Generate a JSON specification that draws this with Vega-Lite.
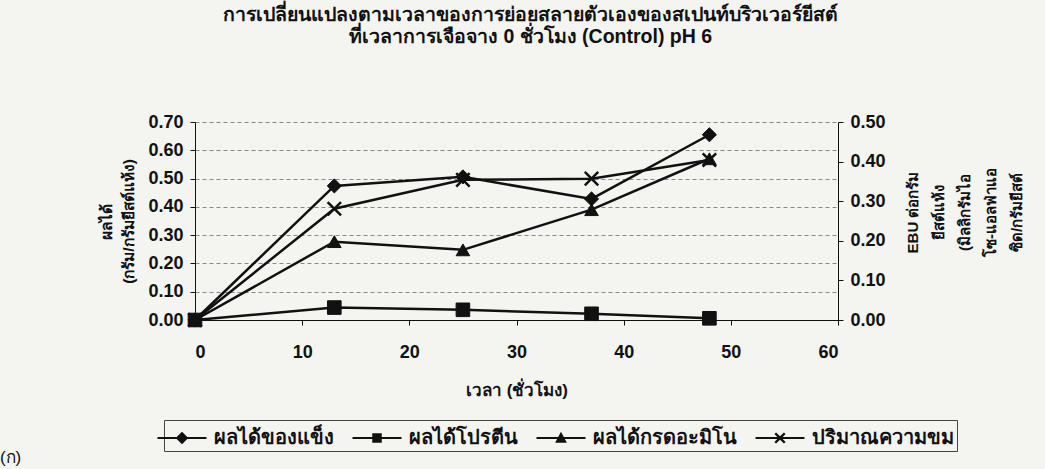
{
  "$schema": "https://vega.github.io/schema/vega-lite/v6.json",
  "width": 643,
  "height": 198,
  "autosize": "none",
  "padding": {"left": 195, "top": 122, "right": 207, "bottom": 149},
  "background": "#f4f4f1",
  "config": {
    "view": {"stroke": null},
    "font": "Liberation Sans",
    "axis": {"labelFont": "Liberation Sans", "labelFontWeight": "bold", "labelFontSize": 18, "labelColor": "#111", "titleFont": "Liberation Sans", "titleFontWeight": "bold", "titleFontSize": 15, "titleColor": "#111", "domainColor": "#111", "tickColor": "#111", "tickSize": 5},
    "legend": {
      "orient": "none", "legendX": -31, "legendY": 298, "direction": "horizontal", "title": null,
      "strokeColor": "#444", "padding": 3, "columnPadding": 15,
      "labelFont": "Liberation Sans", "labelFontWeight": "bold", "labelFontSize": 20, "labelColor": "#111", "labelOffset": 17,
      "symbolSize": 784
    }
  },
  "title": {
    "text": ["การเปลี่ยนแปลงตามเวลาของการย่อยสลายตัวเองของสเปนท์บริวเวอร์ยีสต์", "ที่เวลาการเจือจาง 0 ชั่วโมง (Control) pH 6"],
    "anchor": "middle",
    "frame": "group",
    "dx": 14,
    "offset": 66,
    "font": "Liberation Sans",
    "fontSize": 19.5,
    "fontWeight": "bold",
    "lineHeight": 22,
    "color": "#111"
  },
  "data": {
    "values": [
      {"t": 0, "series": "ผลได้ของแข็ง", "v": 0.0},
      {"t": 13, "series": "ผลได้ของแข็ง", "v": 0.474},
      {"t": 25, "series": "ผลได้ของแข็ง", "v": 0.506},
      {"t": 37, "series": "ผลได้ของแข็ง", "v": 0.428},
      {"t": 48, "series": "ผลได้ของแข็ง", "v": 0.655},
      {"t": 0, "series": "ผลได้โปรตีน", "v": 0.0},
      {"t": 13, "series": "ผลได้โปรตีน", "v": 0.044},
      {"t": 25, "series": "ผลได้โปรตีน", "v": 0.036},
      {"t": 37, "series": "ผลได้โปรตีน", "v": 0.022},
      {"t": 48, "series": "ผลได้โปรตีน", "v": 0.006},
      {"t": 0, "series": "ผลได้กรดอะมิโน", "v": 0.0},
      {"t": 13, "series": "ผลได้กรดอะมิโน", "v": 0.277},
      {"t": 25, "series": "ผลได้กรดอะมิโน", "v": 0.248},
      {"t": 37, "series": "ผลได้กรดอะมิโน", "v": 0.39},
      {"t": 48, "series": "ผลได้กรดอะมิโน", "v": 0.57},
      {"t": 0, "series": "ปริมาณความขม", "v": 0.0},
      {"t": 13, "series": "ปริมาณความขม", "v": 0.281},
      {"t": 25, "series": "ปริมาณความขม", "v": 0.354},
      {"t": 37, "series": "ปริมาณความขม", "v": 0.357},
      {"t": 48, "series": "ปริมาณความขม", "v": 0.404}
    ]
  },
  "encoding": {
    "x": {
      "field": "t", "type": "quantitative",
      "scale": {"domain": [0, 60], "nice": false},
      "axis": {"values": [0, 10, 20, 30, 40, 50, 60], "grid": false, "labelPadding": 18, "title": "เวลา (ชั่วโมง)", "titlePadding": 21, "titleFontSize": 17}
    }
  },
  "layer": [
    {
      "transform": [{"filter": "datum.series !== 'ปริมาณความขม'"}],
      "encoding": {
        "y": {
          "field": "v", "type": "quantitative",
          "scale": {"domain": [0, 0.7], "nice": false},
          "axis": {"orient": "left", "values": [0, 0.1, 0.2, 0.3, 0.4, 0.5, 0.6, 0.7], "format": ".2f", "grid": true, "gridColor": "#888", "gridDash": [4, 3], "gridWidth": 1, "labelPadding": 7, "title": ["ผลได้", "(กรัม/กรัมยีสต์แห้ง)"], "titlePadding": 11, "titleLineHeight": 22, "titleFontSize": 15.5}
        }
      },
      "layer": [
        {"mark": {"type": "line", "color": "#111", "strokeWidth": 2.5}, "encoding": {"detail": {"field": "series"}}},
        {
          "transform": [{"filter": "datum.series === 'ผลได้ของแข็ง'"}],
          "mark": {"type": "point", "shape": "diamond", "filled": true, "color": "#111", "stroke": "#111", "strokeWidth": 1, "size": 200, "opacity": 1}
        },
        {
          "transform": [{"filter": "datum.series === 'ผลได้โปรตีน'"}],
          "mark": {"type": "point", "shape": "square", "filled": true, "color": "#111", "stroke": "#111", "strokeWidth": 1, "size": 185, "opacity": 1}
        },
        {
          "transform": [{"filter": "datum.series === 'ผลได้กรดอะมิโน'"}],
          "mark": {"type": "point", "shape": "triangle-up", "filled": true, "color": "#111", "stroke": "#111", "strokeWidth": 1, "size": 185, "opacity": 1}
        },
        {
          "transform": [{"filter": "false"}],
          "mark": {"type": "point", "filled": true, "color": "#111", "opacity": 1},
          "encoding": {
            "shape": {
              "field": "series", "type": "nominal",
              "scale": {
                "domain": ["ผลได้ของแข็ง", "ผลได้โปรตีน", "ผลได้กรดอะมิโน", "ปริมาณความขม"],
                "range": [
                  "M-1.75,-0.08L1.75,-0.08L1.75,0.08L-1.75,0.08ZM0,-0.45L0.45,0L0,0.45L-0.45,0Z",
                  "M-1.75,-0.08L1.75,-0.08L1.75,0.08L-1.75,0.08ZM-0.34,-0.34L0.34,-0.34L0.34,0.34L-0.34,0.34Z",
                  "M-1.75,-0.08L1.75,-0.08L1.75,0.08L-1.75,0.08ZM0,-0.45L0.42,0.34L-0.42,0.34Z",
                  "M-1.75,-0.08L1.75,-0.08L1.75,0.08L-1.75,0.08ZM-0.4,-0.28L-0.28,-0.4L0,-0.12L0.28,-0.4L0.4,-0.28L0.12,0L0.4,0.28L0.28,0.4L0,0.12L-0.28,0.4L-0.4,0.28L-0.12,0Z"
                ]
              },
              "legend": {"symbolFillColor": "#111"}
            }
          }
        },
        {
          "transform": [{"filter": "datum.t === 0 && datum.series === 'ผลได้ของแข็ง'"}],
          "mark": {"type": "text", "text": "(ก)", "font": "Liberation Sans", "fontSize": 17, "color": "#111", "align": "left", "baseline": "middle", "clip": false},
          "encoding": {"x": {"datum": -18.2}, "y": {"datum": -0.488}}
        }
      ]
    },
    {
      "transform": [{"filter": "datum.series === 'ปริมาณความขม'"}],
      "encoding": {
        "y": {
          "field": "v", "type": "quantitative",
          "scale": {"domain": [0, 0.5], "nice": false},
          "axis": {"orient": "right", "values": [0, 0.1, 0.2, 0.3, 0.4, 0.5], "format": ".2f", "grid": false, "labelPadding": 7, "title": ["EBU ต่อกรัม", "ยีสต์แห้ง", "(มิลลิกรัมไอ", "โซ-แอลฟ่าแอ", "ซิด/กรัมยีสต์"], "titleAngle": 270, "titleBaseline": "top", "titleAlign": "center", "titleX": 67, "titleY": 90, "titleLineHeight": 26, "titleFontSize": 15}
        }
      },
      "layer": [
        {"mark": {"type": "line", "color": "#111", "strokeWidth": 2.5}},
        {
          "mark": {"type": "point", "shape": "M-1,-1L1,1M-1,1L1,-1", "filled": false, "color": "#111", "stroke": "#111", "strokeWidth": 2.5, "size": 180, "opacity": 1}
        }
      ]
    }
  ],
  "resolve": {"scale": {"y": "independent"}}
}
